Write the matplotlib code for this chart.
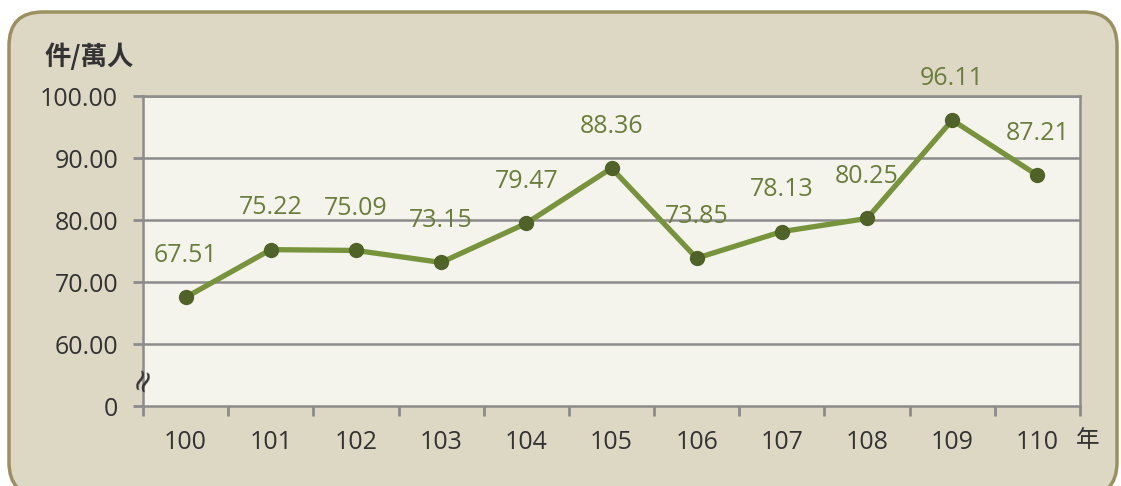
import matplotlib.pyplot as plt
from matplotlib.patches import FancyBboxPatch

plt.rcParams['font.family'] = ['Open Sans', 'Noto Sans CJK TC', 'DejaVu Sans']

years = ['100', '101', '102', '103', '104', '105', '106', '107', '108', '109', '110']
values = [67.51, 75.22, 75.09, 73.15, 79.47, 88.36, 73.85, 78.13, 80.25, 96.11, 87.21]
ytick_vals = [50, 60, 70, 80, 90, 100]
ytick_labels = ['0', '60.00', '70.00', '80.00', '90.00', '100.00']

W, H = 1121, 486
fig = plt.figure(figsize=(W / 100, H / 100), dpi=100)
fig.patch.set_facecolor('white')

# rounded background panel
panel = FancyBboxPatch((9 / W, 0 - 10 / H), (1108) / W, (474 + 10) / H,
                       boxstyle='round,pad=0,rounding_size=0.03',
                       transform=fig.transFigure, facecolor='#ddd8c3',
                       edgecolor='#9a9060', linewidth=2.5, zorder=-5,
                       mutation_aspect=W / H)
fig.add_artist(panel)

ax = fig.add_axes([143 / W, 1 - 406 / H, (1080 - 143) / W, (406 - 96) / H])
ax.set_zorder(2)
ax.set_facecolor('#f4f3ec')

x = list(range(len(years)))
ax.plot(x, values, color='#77933c', linewidth=3.8, marker='o',
        markersize=10, markerfacecolor='#4f6228', markeredgecolor='#4f6228',
        zorder=3, solid_capstyle='round')

for xi, v in zip(x, values):
    ax.annotate(f'{v:.2f}', (xi, v), xytext=(0, 30), textcoords='offset points',
                ha='center', va='center', fontsize=18, color='#6b7d3a',
                annotation_clip=False, zorder=4)

ax.set_xlim(-0.5, len(years) - 0.5)
ax.set_ylim(50, 100)

ax.set_yticks(ytick_vals)
ax.set_yticklabels(ytick_labels)
for yv in ytick_vals[1:]:
    ax.axhline(yv, color='#8c8c8c', linewidth=1.8, zorder=1)

ax.set_xticks([i - 0.5 for i in range(len(years) + 1)])
ax.set_xticklabels([])
ax.set_xticks(x, minor=True)
ax.set_xticklabels(years, minor=True)
ax.tick_params(axis='x', which='minor', length=0, pad=17, labelsize=18, labelcolor='#333333')
ax.tick_params(axis='x', which='major', length=7, width=2, color='#8c8c8c', direction='out')
ax.tick_params(axis='y', length=7, width=2, color='#8c8c8c', direction='out',
               labelsize=18, labelcolor='#333333', pad=11)

for s in ax.spines.values():
    s.set_color('#8c8c8c')
    s.set_linewidth(1.8)

# axis break mark
ax.text(-0.5, 54.5, '≈', rotation=70, ha='center', va='center',
        fontsize=22, color='#333333', family='DejaVu Sans', clip_on=False)

fig.text(45 / W, 1 - 57 / H, '件/萬人', ha='left', va='center', fontsize=19,
         color='#333333', family=['Noto Sans CJK TC'], weight='bold')
fig.text(1088 / W, 1 - 440 / H, '年', ha='center', va='center', fontsize=17,
         color='#333333', family=['Noto Sans CJK TC'])

fig.savefig('out.png', dpi=100)
